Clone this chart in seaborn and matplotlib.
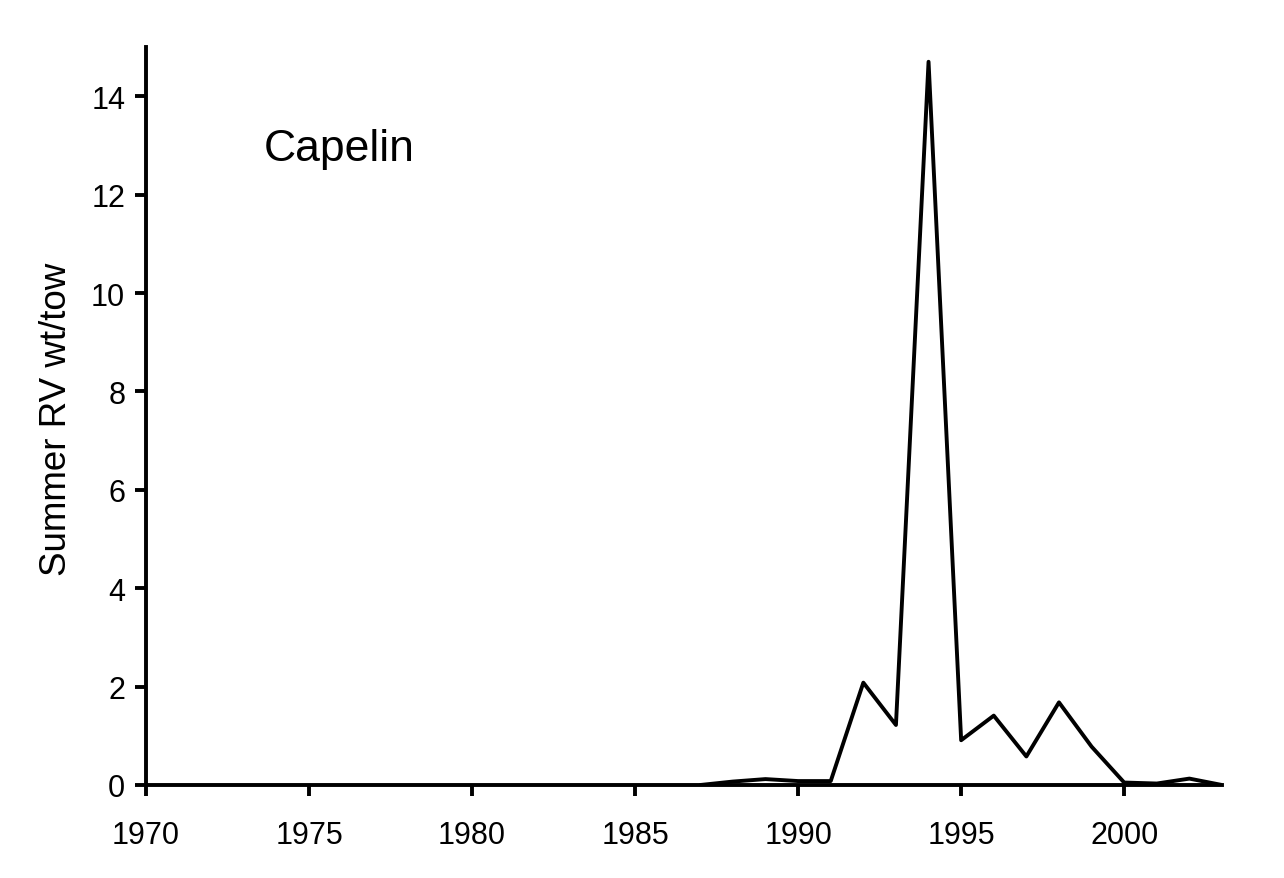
import pandas as pd
import numpy as np
import matplotlib
matplotlib.use("Agg")
import matplotlib.pyplot as plt
import seaborn as sns

sns.set_theme(style="white")
plt.rcParams["font.family"] = ["Liberation Sans", "DejaVu Sans"]

# Capelin, summer RV survey weight per tow
years = [1987, 1988, 1989, 1990, 1991, 1992, 1993, 1994, 1995, 1996,
         1997, 1998, 1999, 2000, 2001, 2002, 2003]
wt_per_tow = [0.0, 0.07, 0.12, 0.08, 0.08, 2.08, 1.22, 14.7, 0.91, 1.41,
              0.58, 1.68, 0.78, 0.05, 0.03, 0.13, 0.0]

df = pd.DataFrame({"year": years, "wt": wt_per_tow})

fig = plt.figure(figsize=(12.84, 8.79), dpi=100)
ax = fig.add_axes([146 / 1284, 1 - 786 / 879, 1076 / 1284, 738 / 879])

sns.lineplot(data=df, x="year", y="wt", ax=ax, color="black", linewidth=2.8)

ax.set_xlim(1970, 2003)
ax.set_ylim(0, 15)
ax.set_xticks(np.arange(1970, 2001, 5))
ax.set_yticks(np.arange(0, 15, 2))
ax.set_xlabel("")
ax.set_ylabel("Summer RV wt/tow", fontsize=26.5, color="black")
ax.yaxis.set_label_coords(-0.067, 0.497)

for side in ["top", "right"]:
    ax.spines[side].set_visible(False)
for side in ["left", "bottom"]:
    ax.spines[side].set_color("black")
    ax.spines[side].set_linewidth(2.8)
ax.tick_params(axis="both", direction="out", length=8, width=2.8,
               colors="black", labelsize=22, left=True, bottom=True)
ax.tick_params(axis="x", pad=17)
ax.tick_params(axis="y", pad=7)

ax.text(0.109, 0.862, "Capelin", transform=ax.transAxes, fontsize=32,
        va="center", ha="left", color="black")

plt.savefig("out.png", dpi=100)
